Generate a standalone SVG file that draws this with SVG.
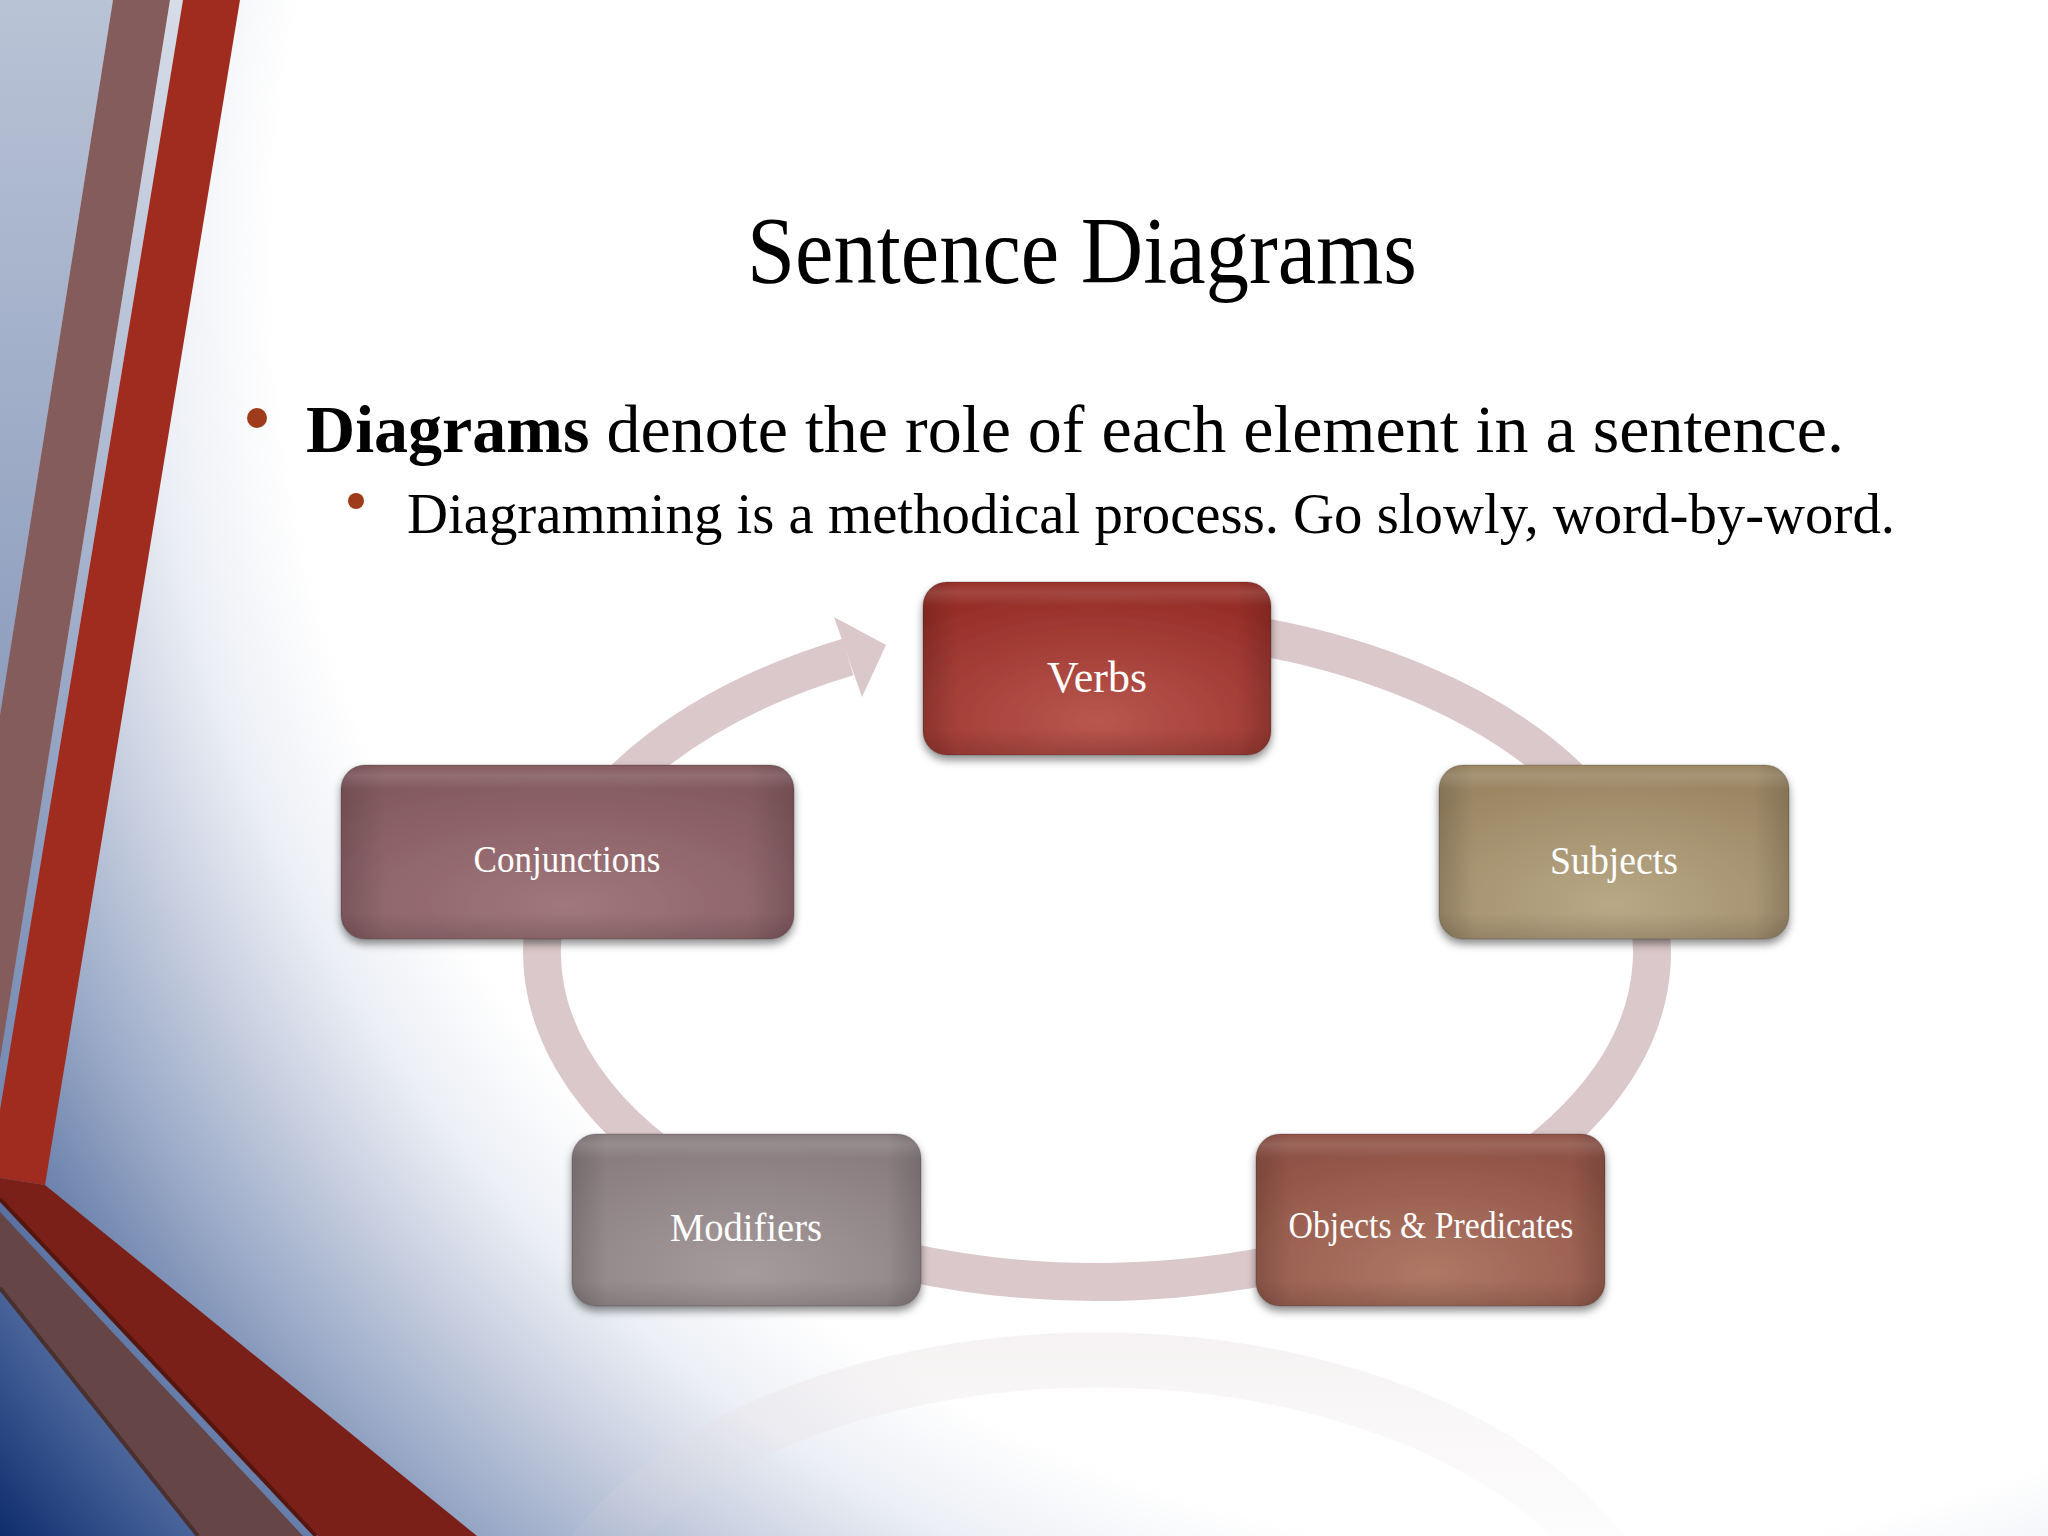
<svg xmlns="http://www.w3.org/2000/svg" width="2048" height="1536" viewBox="0 0 2048 1536">
  <defs>
    <radialGradient id="bg" gradientUnits="userSpaceOnUse" cx="1567" cy="261" r="2020">
      <stop offset="0" stop-color="#ffffff"/>
      <stop offset="0.64" stop-color="#ffffff"/>
      <stop offset="0.70" stop-color="#eceff5"/>
      <stop offset="0.76" stop-color="#c6cedf"/>
      <stop offset="0.82" stop-color="#9cabc8"/>
      <stop offset="0.88" stop-color="#6d83ad"/>
      <stop offset="0.94" stop-color="#3f5b94"/>
      <stop offset="1" stop-color="#0f2c6c"/>
    </radialGradient>
    <linearGradient id="tl" x1="0" y1="0" x2="0" y2="1">
      <stop offset="0" stop-color="#b9c3d6"/>
      <stop offset="1" stop-color="#8d9dbd"/>
    </linearGradient>
    <linearGradient id="gap" gradientUnits="userSpaceOnUse" x1="0" y1="0" x2="0" y2="1110">
      <stop offset="0" stop-color="#d6dce8"/>
      <stop offset="1" stop-color="#7489b2"/>
    </linearGradient>
    <radialGradient id="g-verbs" cx="50%" cy="80%" r="75%">
      <stop offset="0" stop-color="#b8574e"/>
      <stop offset="1" stop-color="#962e28"/>
    </radialGradient>
    <radialGradient id="g-conj" cx="50%" cy="80%" r="75%">
      <stop offset="0" stop-color="#a0777c"/>
      <stop offset="1" stop-color="#845a5f"/>
    </radialGradient>
    <radialGradient id="g-subj" cx="50%" cy="80%" r="75%">
      <stop offset="0" stop-color="#b8a886"/>
      <stop offset="1" stop-color="#9b8663"/>
    </radialGradient>
    <radialGradient id="g-obj" cx="50%" cy="80%" r="75%">
      <stop offset="0" stop-color="#ae7865"/>
      <stop offset="1" stop-color="#905246"/>
    </radialGradient>
    <radialGradient id="g-mod" cx="50%" cy="80%" r="75%">
      <stop offset="0" stop-color="#a69b9c"/>
      <stop offset="1" stop-color="#897d7f"/>
    </radialGradient>
    <linearGradient id="sheen" x1="0" y1="0" x2="1" y2="0">
      <stop offset="0" stop-color="#000" stop-opacity="0.14"/>
      <stop offset="0.1" stop-color="#000" stop-opacity="0"/>
      <stop offset="0.9" stop-color="#000" stop-opacity="0"/>
      <stop offset="1" stop-color="#000" stop-opacity="0.14"/>
    </linearGradient>
    <linearGradient id="tophl" x1="0" y1="0" x2="0" y2="1">
      <stop offset="0" stop-color="#fff" stop-opacity="0"/>
      <stop offset="0.06" stop-color="#fff" stop-opacity="0.12"/>
      <stop offset="0.14" stop-color="#fff" stop-opacity="0"/>
      <stop offset="0.85" stop-color="#000" stop-opacity="0"/>
      <stop offset="1" stop-color="#000" stop-opacity="0.12"/>
    </linearGradient>
    <linearGradient id="refl" gradientUnits="userSpaceOnUse" x1="0" y1="1340" x2="0" y2="1536">
      <stop offset="0" stop-color="#e6dcde" stop-opacity="0.35"/>
      <stop offset="1" stop-color="#e6dcde" stop-opacity="0.06"/>
    </linearGradient>
    <filter id="shadow" x="-10%" y="-10%" width="120%" height="130%">
      <feDropShadow dx="0" dy="5" stdDeviation="4" flood-color="#000" flood-opacity="0.45"/>
    </filter>
    <style>
      .box { stroke: #000; stroke-opacity: 0.12; stroke-width: 1.5; }
      .ov { stroke: none; }
      .lbl { font-family: "Liberation Serif", serif; fill: #ffffff; text-anchor: middle; }
      .body { font-family: "Liberation Serif", serif; fill: #000000; }
      .bullet { fill: #9e3b1b; }
      .ring { fill: none; stroke: #dbc8ca; stroke-width: 38; }
    </style>
  </defs>

  <!-- background -->
  <rect x="0" y="0" width="2048" height="1536" fill="url(#bg)"/>
  <polygon points="0,0 113,0 0,715" fill="url(#tl)"/>
  <polygon points="170,0 183,0 0,1110 0,1060" fill="url(#gap)"/>
  <polygon points="113,0 170,0 0,1060 0,715" fill="#855c5c"/>
  <polygon points="183,0 240,0 45,1185 0,1178 0,1110" fill="#a02c20"/>
  <polygon points="0,1178 45,1185 477,1536 318,1536 0,1200" fill="#7a2018"/>
  <line x1="0" y1="1199" x2="316" y2="1536" stroke="#561610" stroke-width="4"/>
  <polygon points="0,1212 303,1536 199,1536 0,1290" fill="#654545"/>
  <line x1="0" y1="1288" x2="198" y2="1536" stroke="#4a3030" stroke-width="4"/>

  <!-- title and bullets -->
  <text x="1082" y="283" font-size="96" text-anchor="middle" textLength="670" lengthAdjust="spacingAndGlyphs" class="body">Sentence Diagrams</text>
  <circle cx="257" cy="418" r="10" class="bullet"/>
  <text x="306" y="452" font-size="68" class="body" textLength="1538" lengthAdjust="spacingAndGlyphs"><tspan font-weight="bold">Diagrams</tspan> denote the role of each element in a sentence.</text>
  <circle cx="356" cy="501" r="8" class="bullet"/>
  <text x="407" y="533" font-size="57" class="body" textLength="1488" lengthAdjust="spacingAndGlyphs">Diagramming is a methodical process. Go slowly, word-by-word.</text>

  <!-- connectors -->
  <g id="connectors">
    <path d="M 543 1690 A 555 330 0 0 1 1653 1690" fill="none" stroke="url(#refl)" stroke-width="55"/>
    <path class="ring" d="M 1194 627 A 555 330 0 1 1 848 657"/>
    <polygon points="834,617 886,645 862,697" fill="#dbc8ca"/>
  </g>

  <!-- nodes -->
  <g id="node-verbs">
    <rect class="box" x="923" y="582" width="348" height="173" rx="24" fill="url(#g-verbs)" filter="url(#shadow)"/>
    <rect class="ov" x="923" y="582" width="348" height="173" rx="24" fill="url(#sheen)"/>
    <rect class="ov" x="923" y="582" width="348" height="173" rx="24" fill="url(#tophl)"/>
    <text class="lbl" x="1097" y="692" font-size="44" textLength="100" lengthAdjust="spacingAndGlyphs">Verbs</text>
  </g>
  <g id="node-subjects">
    <rect class="box" x="1439" y="765" width="350" height="174" rx="24" fill="url(#g-subj)" filter="url(#shadow)"/>
    <rect class="ov" x="1439" y="765" width="350" height="174" rx="24" fill="url(#sheen)"/>
    <rect class="ov" x="1439" y="765" width="350" height="174" rx="24" fill="url(#tophl)"/>
    <text class="lbl" x="1614" y="874" font-size="40" textLength="128" lengthAdjust="spacingAndGlyphs">Subjects</text>
  </g>
  <g id="node-objects">
    <rect class="box" x="1256" y="1134" width="349" height="172" rx="24" fill="url(#g-obj)" filter="url(#shadow)"/>
    <rect class="ov" x="1256" y="1134" width="349" height="172" rx="24" fill="url(#sheen)"/>
    <rect class="ov" x="1256" y="1134" width="349" height="172" rx="24" fill="url(#tophl)"/>
    <text class="lbl" x="1431" y="1238" font-size="38" textLength="285" lengthAdjust="spacingAndGlyphs">Objects &amp; Predicates</text>
  </g>
  <g id="node-modifiers">
    <rect class="box" x="572" y="1134" width="349" height="172" rx="24" fill="url(#g-mod)" filter="url(#shadow)"/>
    <rect class="ov" x="572" y="1134" width="349" height="172" rx="24" fill="url(#sheen)"/>
    <rect class="ov" x="572" y="1134" width="349" height="172" rx="24" fill="url(#tophl)"/>
    <text class="lbl" x="746" y="1241" font-size="40" textLength="152" lengthAdjust="spacingAndGlyphs">Modifiers</text>
  </g>
  <g id="node-conjunctions">
    <rect class="box" x="341" y="765" width="453" height="174" rx="24" fill="url(#g-conj)" filter="url(#shadow)"/>
    <rect class="ov" x="341" y="765" width="453" height="174" rx="24" fill="url(#sheen)"/>
    <rect class="ov" x="341" y="765" width="453" height="174" rx="24" fill="url(#tophl)"/>
    <text class="lbl" x="567" y="872" font-size="38" textLength="187" lengthAdjust="spacingAndGlyphs">Conjunctions</text>
  </g>
</svg>
